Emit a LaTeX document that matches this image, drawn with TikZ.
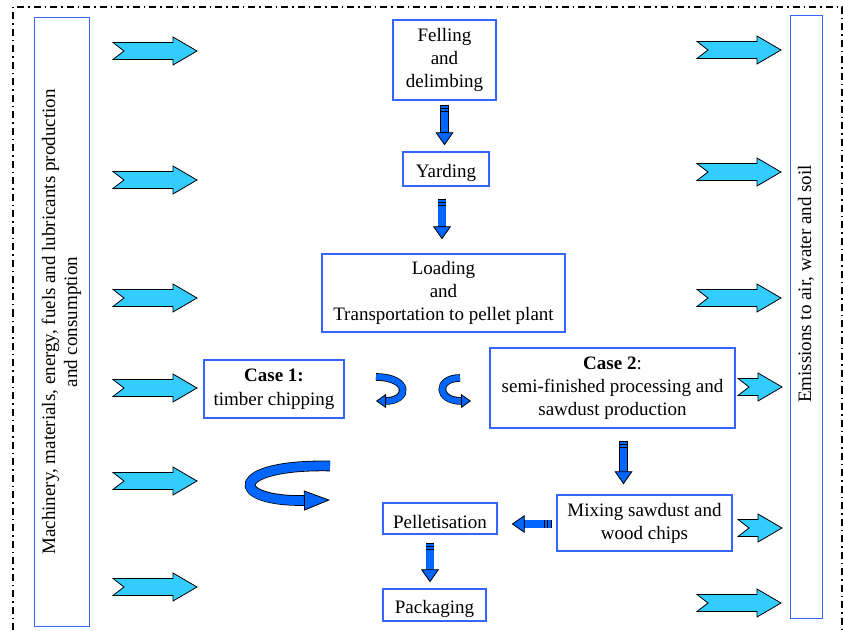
\documentclass[tikz,border=0pt]{standalone}
\usepackage{fontspec}
\setmainfont{Liberation Serif}
\usetikzlibrary{arrows.meta,calc}
\definecolor{boxblue}{RGB}{51,102,255}
\definecolor{arrowblue}{RGB}{0,102,255}
\definecolor{feedcyan}{RGB}{51,204,255}
\tikzset{
  stage/.style={draw=boxblue, line width=1.4pt, fill=white, align=center, inner sep=0pt, font=\fontsize{19}{23}\selectfont, execute at begin node={\rule{0pt}{21pt}}},
  sidebox/.style={draw=boxblue, line width=1pt, align=center, inner sep=0pt, font=\fontsize{19}{22}\selectfont},
  sidelabel/.style={rotate=90, inner sep=0pt, font=\fontsize{19}{22}\selectfont},
  frame/.style={dash pattern=on 7pt off 4pt on 1.5pt off 4pt, line width=1.2pt},
  feed/.style={draw=black, line width=0.8pt, fill=feedcyan, line join=miter},
  pics/feedarrow/.style={code={
    \draw[feed] (0,8.5) -- (#1-24,8.5) -- (#1-24,14) -- (#1,0) -- (#1-24,-14) -- (#1-24,-8.5) -- (0,-8.5) -- (11,0) -- cycle;
  }},
}
\newcommand\flowarrow[2]{%
  \draw[black, line width=8.8pt, shorten >=12pt] #1 -- #2;
  \draw[arrowblue, line width=7.2pt, -{Triangle[width=18pt, length=13pt, line width=0.8pt, color=black, fill=arrowblue]}] #1 -- #2;
  \draw[black, line width=7.2pt, dash pattern=on 0.8pt off 2.4pt on 0.8pt off 2.4pt on 0.8pt off 500pt] #1 -- #2;
}
\newcommand\curlarrow[4]{%
  \draw[black, line width=#1+1.6pt, shorten >=#3-1pt] #4;
  \draw[arrowblue, line width=#1, -{Triangle[width=#2, length=#3, line width=0.8pt, color=black, fill=arrowblue]}] #4;
}
\begin{document}
\begin{tikzpicture}[x=1pt, y=1pt]
  \useasboundingbox (0,0) rectangle (843,630);
  \draw[frame] (13,0) -- (13,623) -- (842,623) -- (842,0);

  %NODE
  \node[sidebox, rotate=90, minimum width=608pt, minimum height=55pt] (inputs) at (61.5,308) {Machinery, materials, energy, fuels and lubricants production\\and consumption};
  \node[sidebox, rotate=90, minimum width=602pt, minimum height=32pt] (outputs) at (806,313) {};
  \node[sidelabel] (outtext) at ($(outputs)+(0,33)$) {Emissions to air, water and soil};

  \node[stage, minimum width=103pt, minimum height=80pt] (felling) at (444.5,570) {Felling\\and\\delimbing};
  \node[stage, minimum width=86pt, minimum height=34pt] (yarding) at (446,461) {Yarding};
  \node[stage, minimum width=243pt, minimum height=78pt] (loading) at (443.5,337) {Loading\\and\\Transportation to pellet plant};
  \node[stage, minimum width=140pt, minimum height=58pt] (caseone) at (274,241) {\textbf{Case 1:}\\[1pt]timber chipping};
  \node[stage, minimum width=245pt, minimum height=80pt] (casetwo) at (612.5,242) {\textbf{Case 2}:\\semi-finished processing and\\sawdust production};
  \node[stage, minimum width=175pt, minimum height=56pt] (mixing) at (644.5,107) {Mixing sawdust and\\wood chips};
  \node[stage, minimum width=114pt, minimum height=31pt] (pellet) at (440,111.5) {Pelletisation};
  \node[stage, minimum width=103pt, minimum height=32pt] (packaging) at (434.5,25) {Packaging};

  %INPUTS AND EMISSIONS
  \pic at (113,579) {feedarrow=84};
  \pic at (113,450) {feedarrow=84};
  \pic at (113,332) {feedarrow=84};
  \pic at (113,242) {feedarrow=84};
  \pic at (113,149) {feedarrow=84};
  \pic at (113,43) {feedarrow=84};
  \pic at (697,580) {feedarrow=84};
  \pic at (697,458) {feedarrow=84};
  \pic at (697,332) {feedarrow=84};
  \pic at (738,243) {feedarrow=44};
  \pic at (738,102) {feedarrow=44};
  \pic at (697,27) {feedarrow=84};

  %EDGE
  \flowarrow{($(felling.south)+(0,-4)$)}{($(yarding.north)+(-1.5,6)$)}
  \flowarrow{($(yarding.south)+(-4,-12)$)}{($(loading.north)+(-1.5,14)$)}
  \flowarrow{($(casetwo.south)+(11,-12)$)}{($(mixing.north)+(-21,10)$)}
  \flowarrow{($(mixing.west)+(-5,-1)$)}{($(pellet.east |- mixing.west)+(14,-1)$)}
  \flowarrow{($(pellet.south)+(-10,-8)$)}{($(packaging.north)+(-4.5,6)$)}

  %CURLS
  \curlarrow{6pt}{14pt}{10pt}{(376,253) .. controls (410,253) and (410,229) .. (376,229)}
  \curlarrow{6pt}{14pt}{10pt}{(460,252) .. controls (436,252) and (436,229) .. (471,229)}
  \curlarrow{9pt}{20pt}{26pt}{(330,164) .. controls (228,166) and (228,128) .. (330,130)}
\end{tikzpicture}
\end{document}
